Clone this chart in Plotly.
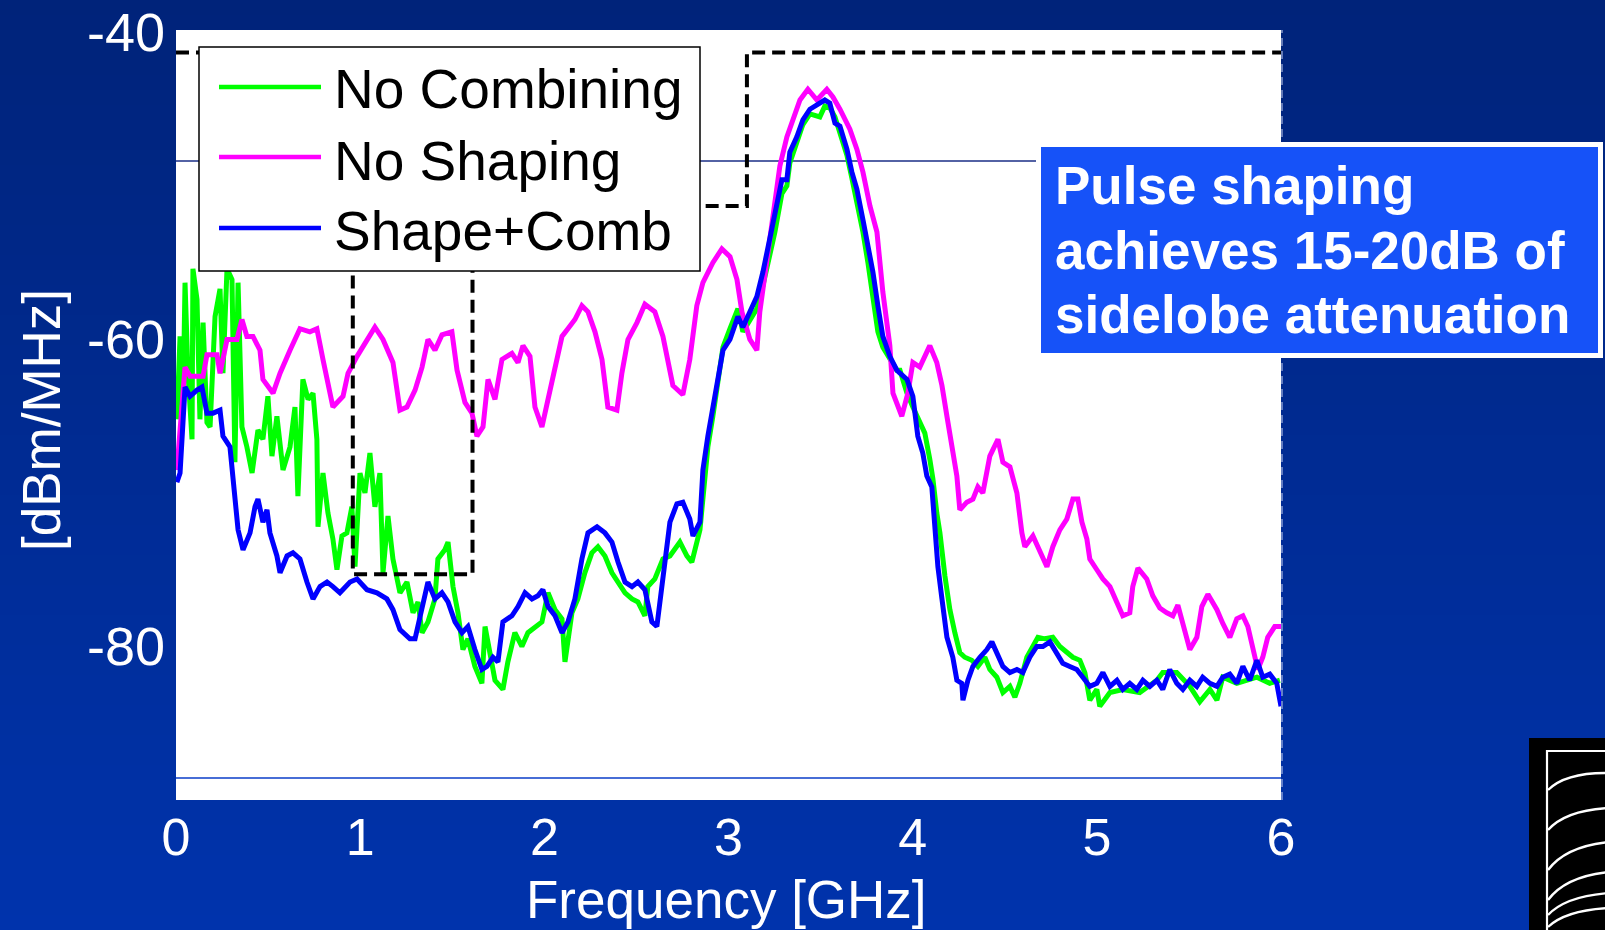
import plotly.graph_objects as go

# ---------------------------------------------------------------------------
# Measured power spectral density of the UWB transmitter (dBm/MHz vs GHz)
# ---------------------------------------------------------------------------
series_names = ["No Combining", "No Shaping", "Shape+Comb"]
series_colors = ["#00FF00", "#FF00FF", "#0000FF"]

freq_no_combining = [
    0.005, 0.022, 0.038, 0.049, 0.065, 0.087, 0.092, 0.114, 0.130, 0.147,
    0.168, 0.185, 0.212, 0.239, 0.255, 0.277, 0.304, 0.320, 0.337, 0.358,
    0.385, 0.413, 0.445, 0.472, 0.499, 0.521, 0.548, 0.581, 0.619, 0.646,
    0.662, 0.689, 0.717, 0.744, 0.765, 0.771, 0.798, 0.825, 0.852, 0.874,
    0.901, 0.928, 0.955, 0.972, 0.999, 1.026, 1.053, 1.080, 1.107, 1.124,
    1.151, 1.178, 1.216, 1.254, 1.287, 1.314, 1.336, 1.368, 1.406, 1.422,
    1.460, 1.477, 1.504, 1.531, 1.558, 1.585, 1.623, 1.661, 1.678, 1.705,
    1.732, 1.775, 1.802, 1.840, 1.878, 1.911, 1.949, 1.987, 2.020, 2.058,
    2.096, 2.112, 2.150, 2.182, 2.220, 2.258, 2.291, 2.329, 2.367, 2.400,
    2.438, 2.476, 2.508, 2.546, 2.562, 2.600, 2.644, 2.682, 2.736, 2.774,
    2.801, 2.845, 2.888, 2.915, 2.942, 2.970, 3.008, 3.051, 3.078, 3.116,
    3.154, 3.187, 3.225, 3.252, 3.290, 3.317, 3.333, 3.371, 3.404, 3.442,
    3.496, 3.523, 3.550, 3.578, 3.605, 3.643, 3.670, 3.697, 3.730, 3.757,
    3.784, 3.811, 3.838, 3.876, 3.914, 3.931, 3.969, 4.001, 4.039, 4.066,
    4.093, 4.110, 4.131, 4.148, 4.175, 4.202, 4.229, 4.256, 4.283, 4.321,
    4.354, 4.392, 4.419, 4.457, 4.490, 4.528, 4.555, 4.582, 4.620, 4.653,
    4.680, 4.718, 4.761, 4.799, 4.837, 4.870, 4.908, 4.935, 4.962, 5.000,
    5.016, 5.071, 5.141, 5.233, 5.326, 5.358, 5.434, 5.505, 5.559, 5.614,
    5.652, 5.684, 5.760, 5.814, 5.869, 5.939, 5.994,
]
dbm_no_combining = [
    -65.2, -59.8, -64.4, -56.3, -62.2, -66.5, -55.4, -57.4, -65.2, -58.9,
    -65.4, -65.7, -58.5, -56.7, -62.2, -55.4, -56.1, -68.0, -56.3, -65.7,
    -67.0, -68.7, -65.9, -66.5, -63.7, -67.6, -65.0, -68.5, -67.0, -64.4,
    -70.2, -62.6, -63.9, -63.5, -66.5, -72.2, -68.7, -71.3, -73.0, -75.0,
    -72.8, -72.6, -70.9, -74.8, -68.7, -70.0, -67.4, -70.9, -68.7, -75.2,
    -71.5, -74.3, -76.5, -75.8, -77.8, -77.1, -79.1, -78.4, -76.9, -74.3,
    -73.7, -73.2, -76.1, -77.8, -80.2, -79.5, -81.3, -82.4, -78.7, -80.7,
    -82.2, -82.8, -81.0, -79.1, -80.0, -79.1, -78.7, -78.4, -76.5, -77.6,
    -78.2, -81.0, -77.8, -76.9, -75.2, -73.9, -73.5, -74.1, -75.2, -75.8,
    -76.5, -76.9, -77.1, -78.0, -76.1, -75.6, -74.3, -74.1, -73.2, -74.1,
    -74.5, -72.4, -67.0, -65.0, -63.0, -60.5, -59.3, -58.0, -59.5, -58.8,
    -58.0, -56.5, -54.5, -53.0, -50.5, -50.0, -48.5, -47.2, -46.0, -45.3,
    -45.5, -44.8, -44.9, -45.5, -46.5, -48.0, -49.5, -51.0, -53.0, -55.0,
    -57.0, -59.5, -60.5, -61.2, -62.0, -62.0, -63.5, -64.4, -65.4, -66.1,
    -67.8, -69.1, -71.3, -72.6, -75.4, -77.6, -79.1, -80.4, -80.7, -80.9,
    -81.3, -80.7, -81.5, -82.0, -83.0, -82.6, -83.3, -82.4, -80.7, -80.0,
    -79.4, -79.5, -79.4, -80.0, -80.4, -80.7, -80.9, -81.7, -83.5, -82.8,
    -83.9, -83.0, -82.8, -83.0, -82.2, -81.7, -81.7, -82.6, -83.6, -82.8,
    -83.5, -82.0, -82.4, -82.2, -82.0, -82.4, -82.2,
]

freq_no_shaping = [
    0.005, 0.049, 0.076, 0.147, 0.168, 0.223, 0.239, 0.277, 0.331, 0.358,
    0.385, 0.418, 0.456, 0.472, 0.527, 0.565, 0.619, 0.673, 0.727, 0.765,
    0.798, 0.852, 0.907, 0.934, 0.983, 1.037, 1.080, 1.124, 1.178, 1.216,
    1.254, 1.298, 1.336, 1.368, 1.406, 1.444, 1.498, 1.526, 1.569, 1.607,
    1.634, 1.667, 1.694, 1.732, 1.770, 1.824, 1.857, 1.884, 1.922, 1.949,
    1.987, 2.020, 2.058, 2.096, 2.128, 2.166, 2.204, 2.237, 2.275, 2.313,
    2.345, 2.394, 2.421, 2.454, 2.503, 2.546, 2.600, 2.644, 2.698, 2.752,
    2.790, 2.828, 2.861, 2.915, 2.964, 3.008, 3.046, 3.073, 3.116, 3.154,
    3.170, 3.208, 3.241, 3.279, 3.317, 3.350, 3.388, 3.431, 3.480, 3.534,
    3.567, 3.605, 3.659, 3.697, 3.730, 3.768, 3.806, 3.838, 3.876, 3.893,
    3.941, 3.974, 4.001, 4.039, 4.093, 4.131, 4.159, 4.186, 4.218, 4.240,
    4.256, 4.294, 4.327, 4.354, 4.381, 4.419, 4.463, 4.490, 4.528, 4.566,
    4.593, 4.609, 4.653, 4.691, 4.729, 4.761, 4.799, 4.837, 4.870, 4.897,
    4.919, 4.946, 4.962, 5.000, 5.033, 5.071, 5.109, 5.141, 5.179, 5.195,
    5.223, 5.271, 5.304, 5.342, 5.380, 5.413, 5.440, 5.467, 5.505, 5.543,
    5.570, 5.603, 5.652, 5.684, 5.722, 5.760, 5.793, 5.820, 5.847, 5.874,
    5.901, 5.928, 5.966, 6.000,
]
dbm_no_shaping = [
    -68.5, -61.8, -62.4, -62.4, -61.0, -61.0, -62.2, -60.0, -60.0, -58.7,
    -59.8, -59.8, -60.7, -62.6, -63.5, -62.2, -60.7, -59.3, -59.5, -59.3,
    -61.3, -64.4, -63.7, -62.2, -61.1, -60.0, -59.2, -60.0, -61.5, -64.6,
    -64.4, -63.3, -61.8, -60.0, -60.7, -59.7, -59.5, -62.0, -64.1, -64.8,
    -66.3, -65.7, -62.6, -63.9, -61.3, -60.9, -61.5, -60.4, -61.1, -64.4,
    -65.7, -63.9, -61.8, -59.8, -59.3, -58.7, -57.8, -58.2, -59.5, -61.3,
    -64.4, -64.6, -62.2, -60.0, -58.9, -57.7, -58.2, -59.8, -63.0, -63.6,
    -61.3, -57.8, -56.3, -55.0, -54.1, -54.6, -56.1, -58.2, -60.0, -60.7,
    -58.2, -54.8, -51.5, -48.7, -46.8, -45.7, -44.4, -43.7, -44.4, -43.7,
    -44.2, -45.0, -46.3, -47.6, -49.1, -51.3, -53.0, -56.9, -60.4, -63.5,
    -65.0, -63.5, -61.5, -61.8, -60.4, -61.5, -63.0, -65.0, -67.2, -68.9,
    -71.1, -70.6, -70.4, -69.6, -70.0, -67.6, -66.5, -68.0, -68.3, -70.0,
    -72.6, -73.5, -72.8, -73.9, -74.8, -73.5, -72.4, -71.7, -70.4, -70.4,
    -71.9, -73.0, -74.3, -75.0, -75.6, -76.1, -77.1, -78.0, -77.8, -76.1,
    -74.9, -75.6, -76.7, -77.5, -77.8, -78.0, -77.3, -78.5, -80.2, -79.4,
    -77.4, -76.6, -77.6, -78.5, -79.4, -78.2, -78.0, -78.7, -80.2, -81.5,
    -80.7, -79.4, -78.7, -78.7,
]

freq_shape_comb = [
    0.005, 0.022, 0.049, 0.076, 0.114, 0.141, 0.168, 0.201, 0.239, 0.255,
    0.293, 0.309, 0.337, 0.364, 0.402, 0.429, 0.445, 0.472, 0.494, 0.510,
    0.548, 0.565, 0.603, 0.635, 0.673, 0.711, 0.744, 0.782, 0.820, 0.852,
    0.890, 0.945, 0.983, 1.037, 1.091, 1.145, 1.178, 1.216, 1.270, 1.298,
    1.336, 1.368, 1.406, 1.444, 1.477, 1.515, 1.553, 1.585, 1.623, 1.661,
    1.688, 1.721, 1.748, 1.775, 1.824, 1.857, 1.895, 1.933, 1.965, 1.992,
    2.020, 2.058, 2.096, 2.128, 2.166, 2.204, 2.237, 2.286, 2.329, 2.367,
    2.400, 2.438, 2.476, 2.508, 2.546, 2.584, 2.611, 2.644, 2.682, 2.720,
    2.752, 2.790, 2.807, 2.845, 2.861, 2.888, 2.915, 2.942, 2.970, 3.008,
    3.051, 3.078, 3.116, 3.154, 3.187, 3.225, 3.252, 3.290, 3.317, 3.333,
    3.371, 3.404, 3.442, 3.496, 3.523, 3.550, 3.578, 3.605, 3.643, 3.670,
    3.697, 3.730, 3.757, 3.784, 3.811, 3.838, 3.876, 3.914, 3.931, 3.969,
    4.001, 4.028, 4.055, 4.077, 4.104, 4.121, 4.137, 4.159, 4.186, 4.218,
    4.240, 4.267, 4.273, 4.300, 4.327, 4.365, 4.403, 4.430, 4.457, 4.490,
    4.528, 4.566, 4.598, 4.636, 4.674, 4.707, 4.745, 4.783, 4.815, 4.853,
    4.891, 4.924, 4.962, 5.000, 5.033, 5.071, 5.109, 5.141, 5.179, 5.217,
    5.250, 5.288, 5.326, 5.358, 5.396, 5.434, 5.467, 5.505, 5.543, 5.575,
    5.614, 5.652, 5.684, 5.722, 5.760, 5.793, 5.830, 5.869, 5.901, 5.939,
    5.977, 6.000,
]
dbm_shape_comb = [
    -69.3, -68.7, -63.1, -63.7, -63.3, -63.1, -64.8, -64.8, -64.6, -66.3,
    -67.0, -69.1, -72.4, -73.7, -72.6, -70.9, -70.4, -71.9, -71.1, -72.6,
    -74.1, -75.2, -74.1, -73.9, -74.3, -75.8, -76.9, -76.1, -75.8, -76.1,
    -76.5, -75.8, -75.6, -76.3, -76.5, -76.9, -77.6, -78.9, -79.5, -79.5,
    -77.6, -75.8, -76.9, -76.5, -77.1, -78.4, -79.1, -78.7, -80.2, -81.5,
    -81.3, -80.7, -81.0, -78.4, -78.0, -77.4, -76.5, -76.9, -76.7, -76.3,
    -77.4, -78.0, -79.1, -78.4, -76.9, -74.3, -72.6, -72.2, -72.6, -73.2,
    -74.5, -75.8, -76.1, -75.8, -76.3, -78.4, -78.7, -75.6, -71.9, -70.7,
    -70.6, -71.7, -72.8, -71.9, -68.5, -66.3, -64.4, -62.6, -60.7, -60.0,
    -58.5, -59.2, -58.2, -57.2, -55.6, -53.5, -52.0, -49.6, -49.6, -47.8,
    -46.8, -45.7, -45.0, -44.6, -44.4, -44.6, -45.9, -46.1, -47.6, -49.1,
    -50.2, -52.2, -53.9, -55.6, -57.8, -59.8, -61.1, -62.0, -62.2, -62.6,
    -63.7, -66.3, -67.4, -68.9, -69.6, -72.2, -74.8, -76.9, -79.4, -80.7,
    -82.2, -82.4, -83.5, -82.2, -81.3, -80.7, -80.2, -79.7, -80.4, -81.3,
    -81.7, -81.5, -81.7, -80.7, -80.0, -80.0, -79.7, -80.4, -81.1, -81.3,
    -81.5, -82.0, -82.6, -82.4, -81.7, -82.6, -82.2, -82.8, -82.4, -82.8,
    -82.2, -82.6, -82.2, -82.8, -81.5, -82.4, -82.8, -82.2, -82.6, -82.0,
    -82.4, -82.6, -82.0, -81.8, -82.4, -81.3, -82.2, -80.9, -82.0, -81.8,
    -82.4, -83.9,
]

# FCC indoor UWB emission mask
mask_freq = [0.0, 0.96, 0.96, 1.61, 1.61, 1.99, 1.99, 3.1, 3.1, 6.0]
mask_dbm = [-41.3, -41.3, -75.3, -75.3, -53.3, -53.3, -51.3, -51.3, -41.3, -41.3]

x_tick_vals = [0, 1, 2, 3, 4, 5, 6]
y_tick_vals = [-40, -60, -80]
y_tick_text = ["-40", "-60", "-80"]

callout_lines = ["Pulse shaping", "achieves 15-20dB of", "sidelobe attenuation"]

# ---------------------------------------------------------------------------
# Page geometry (pixels) and helpers to place slide decorations in paper space
# ---------------------------------------------------------------------------
W, H = 1605, 930
L, R, T, B = 176, 324, 30, 130
PW, PH = W - L - R, H - T - B
FONT = "Arial, Liberation Sans, sans-serif"


def xp(px):
    return (px - L) / PW


def yp(py):
    return (H - B - py) / PH


fig = go.Figure()

for name, color, fx, fy in zip(
    series_names,
    series_colors,
    [freq_no_combining, freq_no_shaping, freq_shape_comb],
    [dbm_no_combining, dbm_no_shaping, dbm_shape_comb],
):
    fig.add_trace(go.Scatter(x=fx, y=fy, mode="lines", name=name,
                             line=dict(color=color, width=5),
                             showlegend=False))

fig.add_trace(go.Scatter(x=mask_freq, y=mask_dbm, mode="lines", name="FCC mask",
                         line=dict(color="black", width=4, dash="13px,7px"),
                         showlegend=False))

shapes = []

# slide background: vertical navy gradient built from thin bands
top_rgb, bot_rgb = (0, 35, 122), (0, 51, 172)
n_bands = 62
band_h = H / n_bands
for i in range(n_bands):
    f = i / (n_bands - 1)
    c = tuple(round(a + (b - a) * f) for a, b in zip(top_rgb, bot_rgb))
    shapes.append(dict(type="rect", xref="paper", yref="paper", layer="below",
                       x0=xp(0), x1=xp(W), y0=yp(i * band_h), y1=yp((i + 1) * band_h + 1),
                       line=dict(width=0), fillcolor="rgb(%d,%d,%d)" % c))

# white plotting surface
shapes.append(dict(type="rect", xref="paper", yref="paper", layer="below",
                   x0=0, x1=1, y0=0, y1=1, line=dict(width=0), fillcolor="white"))

# thin template rules crossing the plot
shapes.append(dict(type="line", xref="paper", yref="paper", layer="below",
                   x0=0, x1=xp(1040), y0=yp(161), y1=yp(161),
                   line=dict(color="#1A2E86", width=1.3)))
shapes.append(dict(type="line", xref="paper", yref="paper", layer="below",
                   x0=0, x1=1, y0=yp(778), y1=yp(778),
                   line=dict(color="#0A3CC8", width=1.6)))
# right frame edge
shapes.append(dict(type="line", xref="paper", yref="paper", layer="above",
                   x0=xp(1282), x1=xp(1282), y0=0, y1=1,
                   line=dict(color="#C8D2F0", width=1, dash="8px,5px")))

# legend frame and samples
leg_x0, leg_x1, leg_y0, leg_y1 = 199, 700, 47, 271
shapes.append(dict(type="rect", xref="paper", yref="paper", layer="above",
                   x0=xp(leg_x0), x1=xp(leg_x1), y0=yp(leg_y1), y1=yp(leg_y0),
                   line=dict(color="black", width=1.5), fillcolor="white"))
legend_rows = [87, 157, 228]
for color, ry in zip(series_colors, legend_rows):
    shapes.append(dict(type="line", xref="paper", yref="paper", layer="above",
                       x0=xp(219), x1=xp(321), y0=yp(ry), y1=yp(ry),
                       line=dict(color=color, width=4.5)))

# callout box
shapes.append(dict(type="rect", xref="paper", yref="paper", layer="above",
                   x0=xp(1038.5), x1=xp(1600.5), y0=yp(355.5), y1=yp(144.5),
                   line=dict(color="white", width=5), fillcolor="#1652F8"))

# corner logo
shapes.append(dict(type="rect", xref="paper", yref="paper", layer="above",
                   x0=xp(1529), x1=xp(1610), y0=yp(935), y1=yp(738),
                   line=dict(width=0), fillcolor="black"))
shapes.append(dict(type="path", xref="paper", yref="paper", layer="above",
                   path="M %f,%f L %f,%f L %f,%f" % (xp(1612), yp(751), xp(1547), yp(751),
                                                    xp(1547), yp(935)),
                   line=dict(color="white", width=2.2)))
for yl, yr, ym in [(790, 773, 772), (830, 808, 810), (870, 842, 846),
                   (900, 872, 876), (915, 893, 896), (927, 908, 910)]:
    shapes.append(dict(type="path", xref="paper", yref="paper", layer="above",
                       path="M %f,%f Q %f,%f %f,%f" % (xp(1548), yp(yl), xp(1566), yp(ym),
                                                       xp(1610), yp(yr)),
                       line=dict(color="white", width=2.4)))

annotations = []
for name, ry in zip(series_names, [89, 161, 231]):
    annotations.append(dict(xref="paper", yref="paper", x=xp(332), y=yp(ry),
                            xanchor="left", yanchor="middle", showarrow=False,
                            text=name, font=dict(family=FONT, size=55, color="black")))
for line, ry in zip(callout_lines, [186, 250, 314]):
    annotations.append(dict(xref="paper", yref="paper", x=xp(1053), y=yp(ry),
                            xanchor="left", yanchor="middle", showarrow=False,
                            text="<b>%s</b>" % line,
                            font=dict(family=FONT, size=53, color="white")))
annotations.append(dict(xref="paper", yref="paper", x=xp(41), y=yp(420),
                        xanchor="center", yanchor="middle", showarrow=False,
                        textangle=-90, text="[dBm/MHz]",
                        font=dict(family=FONT, size=53, color="white")))
annotations.append(dict(xref="paper", yref="paper", x=xp(726), y=yp(899),
                        xanchor="center", yanchor="middle", showarrow=False,
                        text="Frequency [GHz]",
                        font=dict(family=FONT, size=53, color="white")))

fig.update_layout(
    width=W, height=H,
    margin=dict(l=L, r=R, t=T, b=B, pad=0, autoexpand=False),
    paper_bgcolor="rgb(0,40,140)",
    plot_bgcolor="rgba(0,0,0,0)",
    showlegend=False,
    shapes=shapes,
    annotations=annotations,
    xaxis=dict(range=[0, 6], tickvals=x_tick_vals, ticks="", showgrid=False,
               zeroline=False, showline=False, ticklabelstandoff=2,
               automargin=False,
               tickfont=dict(family=FONT, size=52, color="white")),
    yaxis=dict(range=[-90, -39.84], tickvals=y_tick_vals, ticktext=y_tick_text,
               ticks="", showgrid=False, zeroline=False, showline=False,
               ticklabelstandoff=10, automargin=False,
               tickfont=dict(family=FONT, size=54, color="white")),
)

fig.write_html("out.html")
